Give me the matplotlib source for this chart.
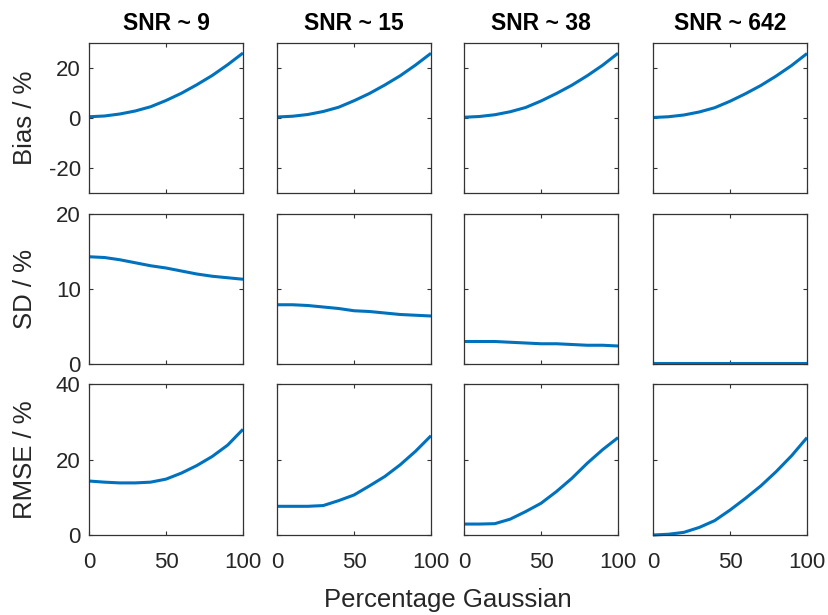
import matplotlib
matplotlib.use("Agg")
import matplotlib.pyplot as plt

plt.rcParams['font.family'] = ['Liberation Sans', 'DejaVu Sans']
plt.rcParams['axes.unicode_minus'] = False

# ---- data ----
x_pct = [0, 10, 20, 30, 40, 50, 60, 70, 80, 90, 100]
snr_titles = ["SNR ~ 9", "SNR ~ 15", "SNR ~ 38", "SNR ~ 642"]
row_labels = ["Bias / %", "SD / %", "RMSE / %"]

bias_snr9 = [0.5, 0.8, 1.6, 2.8, 4.5, 7.0, 9.9, 13.3, 17.0, 21.3, 26.0]
bias_snr15 = [0.4, 0.7, 1.4, 2.6, 4.3, 6.9, 9.8, 13.2, 16.9, 21.2, 25.9]
bias_snr38 = [0.3, 0.6, 1.3, 2.5, 4.2, 6.8, 9.8, 13.1, 16.9, 21.1, 25.9]
bias_snr642 = [0.2, 0.5, 1.2, 2.4, 4.1, 6.7, 9.7, 13.0, 16.8, 21.0, 25.8]

sd_snr9 = [14.3, 14.2, 13.9, 13.5, 13.1, 12.8, 12.4, 12.0, 11.7, 11.5, 11.3]
sd_snr15 = [7.9, 7.9, 7.8, 7.6, 7.4, 7.1, 7.0, 6.8, 6.6, 6.5, 6.4]
sd_snr38 = [3.0, 3.0, 3.0, 2.9, 2.8, 2.7, 2.7, 2.6, 2.5, 2.5, 2.4]
sd_snr642 = [0.1, 0.1, 0.1, 0.1, 0.1, 0.1, 0.1, 0.1, 0.1, 0.1, 0.1]

rmse_snr9 = [14.3, 14.0, 13.8, 13.8, 14.0, 14.8, 16.4, 18.4, 20.8, 23.8, 28.0]
rmse_snr15 = [7.6, 7.6, 7.6, 7.8, 9.1, 10.6, 13.0, 15.5, 18.6, 22.2, 26.3]
rmse_snr38 = [2.9, 2.9, 3.0, 4.2, 6.2, 8.4, 11.5, 15.0, 19.0, 22.6, 25.8]
rmse_snr642 = [0.0, 0.2, 0.7, 2.0, 3.8, 6.6, 9.7, 13.0, 16.8, 21.0, 25.8]

bias_rows = [bias_snr9, bias_snr15, bias_snr38, bias_snr642]
sd_rows = [sd_snr9, sd_snr15, sd_snr38, sd_snr642]
rmse_rows = [rmse_snr9, rmse_snr15, rmse_snr38, rmse_snr642]
all_rows = [bias_rows, sd_rows, rmse_rows]

ylims = [(-30, 30), (0, 20), (0, 40)]
yticks = [[-20, 0, 20], [0, 10, 20], [0, 20, 40]]
xticks = [0, 50, 100]

# ---- layout ----
W, H = 829, 615
fig = plt.figure(figsize=(W / 100, H / 100), dpi=100)
col_left = [89, 277, 464, 653]
ax_w = 154
row_top = [43, 214, 384]
row_bot = [193, 364, 535]

line_color = '#0072BD'
text_color = '#262626'
edge_color = '#333333'

for r in range(3):
    for c in range(4):
        l = col_left[c] / W
        b = 1 - row_bot[r] / H
        h = (row_bot[r] - row_top[r]) / H
        ax = fig.add_axes([l, b, ax_w / W, h])
        ax.plot(x_pct, all_rows[r][c], color=line_color, linewidth=2.2,
                solid_capstyle='butt', clip_on=False)
        ax.set_xlim(0, 100)
        ax.set_ylim(*ylims[r])
        ax.set_xticks(xticks)
        ax.set_yticks(yticks[r])
        ax.tick_params(direction='in', top=True, right=True, length=3,
                       width=0.8, colors=edge_color, labelcolor=text_color,
                       labelsize=16)
        ax.tick_params(axis='x', pad=12)
        ax.tick_params(axis='y', pad=6)
        for s in ax.spines.values():
            s.set_color(edge_color)
            s.set_linewidth(0.9)
        if r < 2:
            ax.set_xticklabels([])
        if c > 0:
            ax.set_yticklabels([])
        else:
            ax.set_ylabel(row_labels[r], fontsize=18.5, color=text_color)
            ax.yaxis.set_label_coords(-0.335, 0.5)
        if r == 0:
            ax.set_title(snr_titles[c], fontsize=16.5, fontweight='bold',
                         color='black', pad=9)

fig.text(448 / W, 1 - 600 / H, "Percentage Gaussian", ha='center', va='center',
         fontsize=18.5, color=text_color)

fig.savefig("out.png", dpi=100, facecolor='white')
